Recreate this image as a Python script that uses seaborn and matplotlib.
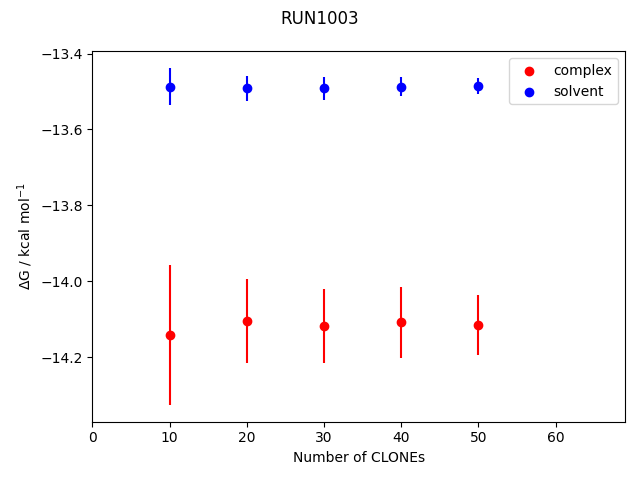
import matplotlib
matplotlib.use("Agg")
import matplotlib.pyplot as plt
import seaborn as sns

clones = [10, 20, 30, 40, 50]
complex_dg = [-14.141, -14.104, -14.117, -14.108, -14.114]
complex_err = [0.184, 0.110, 0.098, 0.093, 0.079]
solvent_dg = [-13.487, -13.492, -13.492, -13.487, -13.485]
solvent_err = [0.049, 0.032, 0.031, 0.025, 0.021]

fig, ax = plt.subplots(figsize=(6.4, 4.8), dpi=100)

# error bars first, points on top
ax.errorbar(clones, complex_dg, yerr=complex_err, fmt="none", ecolor="red", elinewidth=1.5)
ax.errorbar(clones, solvent_dg, yerr=solvent_err, fmt="none", ecolor="blue", elinewidth=1.5)

sns.scatterplot(x=clones, y=complex_dg, color="red", s=36, edgecolor="red", linewidth=1,
                label="complex", ax=ax, zorder=3)
sns.scatterplot(x=clones, y=solvent_dg, color="blue", s=36, edgecolor="blue", linewidth=1,
                label="solvent", ax=ax, zorder=3)

ax.set_xlim(0, 69)
ax.set_xlabel("Number of CLONEs")
ax.set_ylabel(r"$\Delta$G / kcal mol$^{-1}$")
handles, labels = ax.get_legend_handles_labels()
for h in handles:
    h.set_markersize(7.5) if hasattr(h, "set_markersize") else None
ax.legend(handles, labels, loc="upper right")
fig.suptitle("RUN1003")

plt.tight_layout()
plt.savefig("out.png", dpi=100)
plt.close()
